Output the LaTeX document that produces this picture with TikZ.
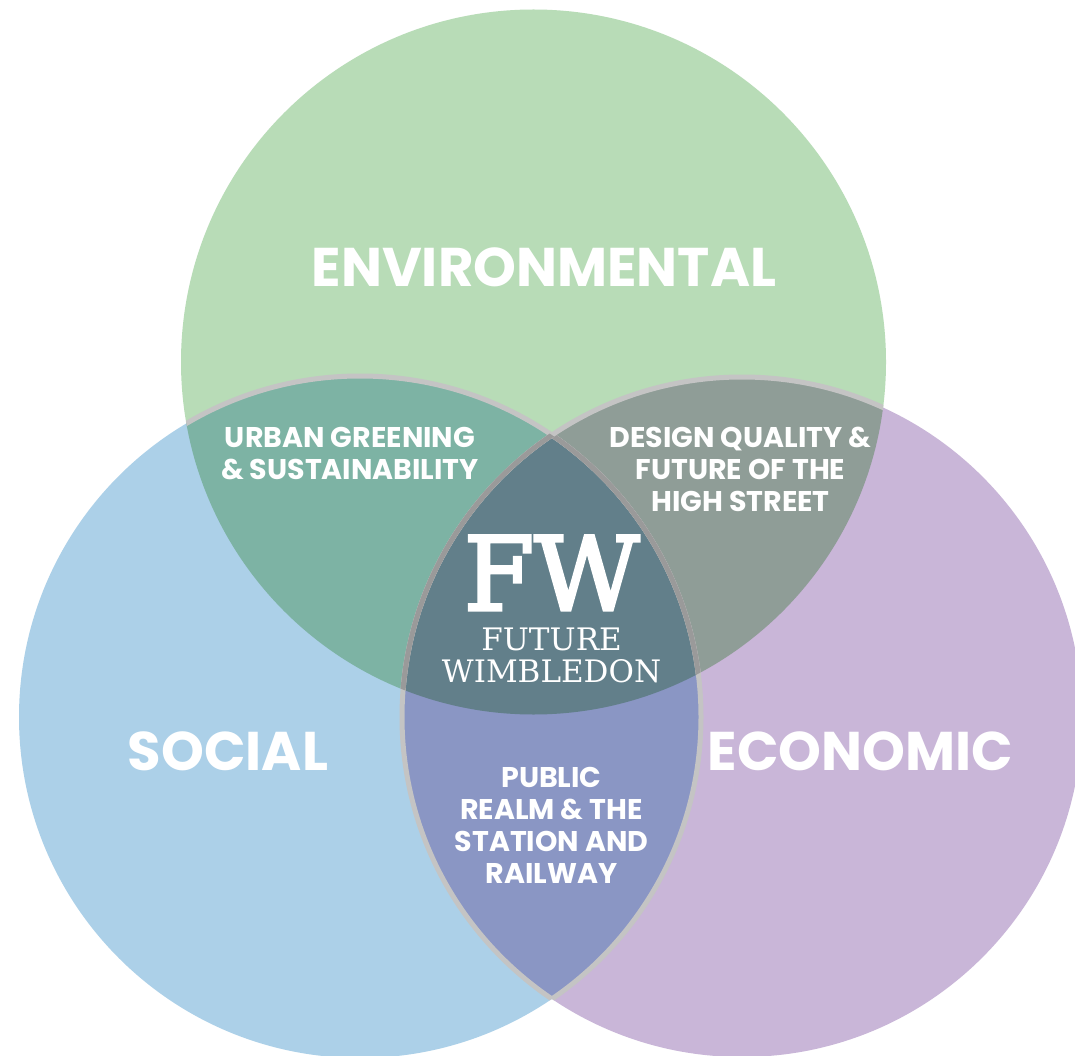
\documentclass[tikz,border=0pt]{standalone}
\usepackage{fontspec}
\newfontfamily\lblfont{Poppins}
\newfontfamily\slabfont{DejaVu Serif}
\newfontfamily\slabmidfont{DejaVu Serif}[FakeBold=3]
\definecolor{cG}{HTML}{B8DCB7}
\definecolor{cB}{HTML}{ACD0E8}
\definecolor{cP}{HTML}{C9B6D8}
\definecolor{cGB}{HTML}{7DB3A4}
\definecolor{cGP}{HTML}{8F9D97}
\definecolor{cBP}{HTML}{8A96C4}
\definecolor{cGBP}{HTML}{627F8A}
\definecolor{strokeLight}{HTML}{C4C4C4}
\definecolor{strokeDark}{HTML}{9A9A9A}
\tikzset{
  big/.style={text=white, inner sep=0pt, anchor=base, font=\lblfont\bfseries\fontsize{54.5}{60}\selectfont},
  mid/.style={text=white, inner sep=0pt, anchor=base, font=\lblfont\bfseries\fontsize{28.5}{32}\selectfont},
  slab/.style={text=white, inner sep=0pt, anchor=base, text depth=0pt},
  ring/.style={line width=5pt}
}
\begin{document}
\begin{tikzpicture}[x=1pt,y=-1pt]
\path[use as bounding box, clip] (0,0) rectangle (1075,1056);
\fill[white] (0,0) rectangle (1075,1056);
\def\Gc{(533.5,362) circle[radius=352.5]}
\def\Bc{(360,717) circle[radius=341]}
\def\Pc{(742,717) circle[radius=340]}
% base fills
\fill[cG] \Gc;
\fill[cB] \Bc;
\fill[cP] \Pc;
% overlaps
\begin{scope}\clip \Gc; \fill[cGB] \Bc; \end{scope}
\begin{scope}\clip \Gc; \fill[cGP] \Pc; \end{scope}
\begin{scope}\clip \Bc; \fill[cBP] \Pc; \end{scope}
\begin{scope}\clip \Gc; \clip \Bc; \fill[cGBP] \Pc; \end{scope}
% rings of the social circle
\begin{scope}\clip \Gc; \draw[ring, strokeLight] \Bc; \end{scope}
\begin{scope}\clip \Pc; \draw[ring, strokeLight] \Bc; \end{scope}
\begin{scope}\clip \Gc; \clip \Pc; \draw[ring, strokeDark] \Bc; \end{scope}
% rings of the economic circle
\begin{scope}\clip \Gc; \draw[ring, strokeLight] \Pc; \end{scope}
\begin{scope}\clip \Bc; \draw[ring, strokeLight] \Pc; \end{scope}
\begin{scope}\clip \Gc; \clip \Bc; \draw[ring, strokeDark] \Pc; \end{scope}
% labels
\node[big] (env) at (544,287) {ENVIRONMENTAL};
\node[big] (soc) at (228,770) {SOCIAL};
\node[big] (eco) at (860.5,770) {ECONOMIC};
\node[mid] (urb1) at (350,447) {URBAN GREENING};
\node[mid] (urb2) at (350,479) {\& SUSTAINABILITY};
\node[mid] (des1) at (740.5,447) {DESIGN QUALITY \&};
\node[mid] (des2) at (740.5,479) {FUTURE OF THE};
\node[mid] (des3) at (740.5,511) {HIGH STREET};
\node[mid] (pub1) at (551.5,787) {PUBLIC};
\node[mid] (pub2) at (551.5,819) {REALM \& THE};
\node[mid] (pub3) at (551.5,851) {STATION AND};
\node[mid] (pub4) at (551.5,883) {RAILWAY};
\node[slab, text height=75pt, font=\slabmidfont\fontsize{102}{110}\selectfont] (fw) at (551.5,610) {FW};
\node[slab, text height=23pt, font=\slabfont\fontsize{31}{36}\selectfont] (fut) at (551.5,650) {FUTURE};
\node[slab, text height=23pt, font=\slabfont\fontsize{31}{36}\selectfont] (wim) at (551.5,682) {WIMBLEDON};
\end{tikzpicture}
\end{document}
